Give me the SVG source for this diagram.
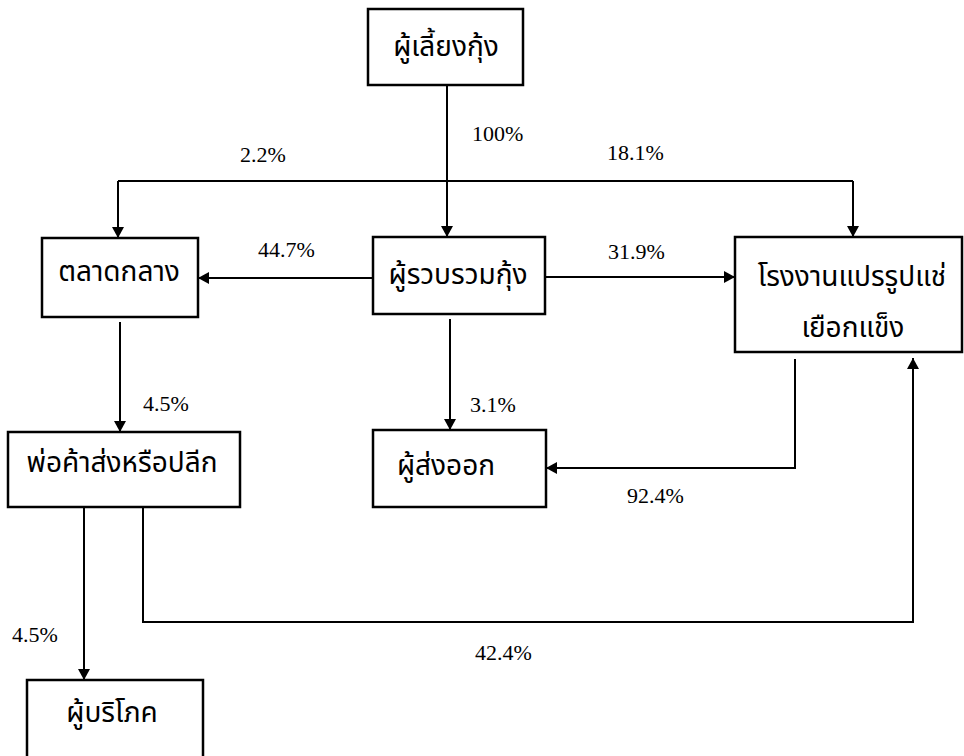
<svg xmlns="http://www.w3.org/2000/svg" width="964" height="756" viewBox="0 0 964 756">
<style>
.box{fill:#fff;stroke:#000;stroke-width:2.5}
.th{font-family:"Noto Sans Thai","Noto Sans","DejaVu Sans",sans-serif;font-size:28px;fill:#000;text-anchor:middle;dominant-baseline:central}
.lbl{font-family:"Liberation Serif","Times New Roman",serif;font-size:22px;fill:#000}
.con{fill:none;stroke:#000;stroke-width:2}
</style>
<defs>
<marker id="arr" markerUnits="userSpaceOnUse" markerWidth="12" markerHeight="12" refX="11" refY="6" orient="auto">
<path d="M0,0 L11,6 L0,12 z" fill="#000"/>
</marker>
</defs>
<rect width="964" height="756" fill="#fff"/>
<g id="connectors">
<path class="con" d="M447 85 V237" marker-end="url(#arr)"/>
<path class="con" d="M118 181 H853"/>
<path class="con" d="M118 181 V238" marker-end="url(#arr)"/>
<path class="con" d="M853 181 V237" marker-end="url(#arr)"/>
<path class="con" d="M373 278 H198" marker-end="url(#arr)"/>
<path class="con" d="M545 277 H735" marker-end="url(#arr)"/>
<path class="con" d="M120 322 V432" marker-end="url(#arr)"/>
<path class="con" d="M450 319 V430" marker-end="url(#arr)"/>
<path class="con" d="M795 359 V468 H546" marker-end="url(#arr)"/>
<path class="con" d="M84 507 V680" marker-end="url(#arr)"/>
<path class="con" d="M143 507 V622 H913 V358" marker-end="url(#arr)"/>
</g>
<g id="labels">
<text class="lbl" x="472" y="141">100%</text>
<text class="lbl" x="240" y="162">2.2%</text>
<text class="lbl" x="607" y="160">18.1%</text>
<text class="lbl" x="258" y="257">44.7%</text>
<text class="lbl" x="608" y="259">31.9%</text>
<text class="lbl" x="143" y="411">4.5%</text>
<text class="lbl" x="470" y="412">3.1%</text>
<text class="lbl" x="627" y="503">92.4%</text>
<text class="lbl" x="12" y="642">4.5%</text>
<text class="lbl" x="475" y="660">42.4%</text>
</g>
<g id="n1"><rect class="box" x="368" y="9" width="155" height="76"/><text class="th" x="446" y="47">ผู้เลี้ยงกุ้ง</text></g>
<g id="n2"><rect class="box" x="373" y="237" width="172" height="77"/><text class="th" x="458" y="275">ผู้รวบรวมกุ้ง</text></g>
<g id="n3"><rect class="box" x="42" y="238" width="156" height="79"/><text class="th" x="119" y="272">ตลาดกลาง</text></g>
<g id="n4"><rect class="box" x="735" y="237" width="227" height="115"/><text class="th" x="852" y="277">โรงงานแปรรูปแช่</text><text class="th" x="853" y="328">เยือกแข็ง</text></g>
<g id="n5"><rect class="box" x="8" y="432" width="232" height="75"/><text class="th" x="122" y="463">พ่อค้าส่งหรือปลีก</text></g>
<g id="n6"><rect class="box" x="373" y="430" width="173" height="77"/><text class="th" x="446" y="466">ผู้ส่งออก</text></g>
<g id="n7"><rect class="box" x="27" y="680" width="176" height="80"/><text class="th" x="112" y="713">ผู้บริโภค</text></g>
</svg>
